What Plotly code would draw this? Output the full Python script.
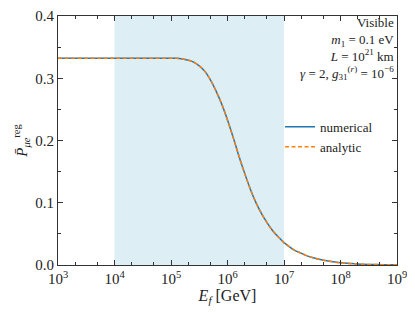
import plotly.graph_objects as go

# Data
E_GeV = [1e3, 1e4, 1e5, 1.26e5, 1.58e5, 2.0e5, 2.51e5, 3.16e5, 3.98e5, 5.01e5, 6.31e5, 7.94e5,
         1e6, 1.26e6, 1.58e6, 2.0e6, 2.51e6, 3.16e6, 3.98e6, 5.01e6, 6.31e6, 7.94e6,
         1e7, 1.26e7, 1.58e7, 2.0e7, 2.51e7, 3.16e7, 5.01e7, 1e8, 2.0e8, 3.98e8, 1e9]
P_numerical = [0.332, 0.332, 0.332, 0.332, 0.331, 0.329, 0.326, 0.320, 0.311, 0.297, 0.279, 0.258,
               0.233, 0.205, 0.176, 0.148, 0.123, 0.101, 0.083, 0.068, 0.055, 0.045,
               0.036, 0.029, 0.023, 0.019, 0.015, 0.012, 0.0075, 0.0035, 0.0016, 0.0007, 0.0003]
P_analytic = list(P_numerical)
band = [1e4, 1e7]
x_ticks = [1e3, 1e4, 1e5, 1e6, 1e7, 1e8, 1e9]
x_ticklabels = ["10<sup>3</sup>", "10<sup>4</sup>", "10<sup>5</sup>", "10<sup>6</sup>",
                "10<sup>7</sup>", "10<sup>8</sup>", "10<sup>9</sup>"]
y_ticks = [0.0, 0.1, 0.2, 0.3, 0.4]
y_ticklabels = ["0.0", "0.1", "0.2", "0.3", "0.4"]

FONT = "Liberation Serif"

fig = go.Figure()
fig.add_vrect(x0=band[0], x1=band[1], fillcolor="#ddeef5", line_width=0, layer="below")
fig.add_trace(go.Scatter(x=E_GeV, y=P_numerical, mode="lines", name="numerical",
                         line=dict(color="#1f77b4", width=1.5, shape="spline", smoothing=1.0)))
fig.add_trace(go.Scatter(x=E_GeV, y=P_analytic, mode="lines", name="analytic",
                         line=dict(color="#ff7f0e", width=1.5, dash="4px,2.5px", shape="spline", smoothing=1.0)))

fig.add_annotation(x=0.998, y=1.012, xref="paper", yref="paper", xanchor="right", yanchor="top",
                   align="right", showarrow=False,
                   text="Visible<br><i>m</i><sub>1</sub> = 0.1 eV<br><i>L</i> = 10<sup>21</sup> km<br>"
                        "<i>γ</i> = 2, <i>g</i><sub>31</sub><sup>(<i>r</i>)</sup> = 10<sup>−6</sup>",
                   font=dict(family=FONT, size=13, color="#222"))

axis_common = dict(showgrid=False, zeroline=False, ticks="inside", mirror="allticks",
                   showline=True, linecolor="#333", linewidth=1, tickcolor="#333",
                   ticklen=5, automargin=False, ticklabeloverflow="allow",
                   tickfont=dict(family=FONT, size=15, color="#222"))

fig.update_xaxes(type="log", range=[3, 9], tickvals=x_ticks, ticktext=x_ticklabels,
                 minor=dict(ticks="inside", ticklen=3, tickcolor="#333", showgrid=False),
                 title=dict(text="<i>E</i><sub><i>f</i></sub> [GeV]", font=dict(family=FONT, size=16, color="#222"),
                            standoff=2),
                 **axis_common)
fig.update_yaxes(range=[0, 0.4], tickvals=y_ticks, ticktext=y_ticklabels,
                 minor=dict(ticks="inside", ticklen=3, tickcolor="#333", dtick=0.05, showgrid=False),
                 title=dict(text="<i>P̄</i><sub><i>μe</i></sub><sup>reg</sup>", font=dict(family=FONT, size=15, color="#222"),
                            standoff=4),
                 **axis_common)

# page body has an 8px default margin; compensate so the plot area lands where the reference has it
fig.update_layout(width=407, height=308, margin=dict(l=50, r=18, t=8, b=51),
                  plot_bgcolor="white", paper_bgcolor="white",
                  font=dict(family=FONT, color="#222"),
                  legend=dict(x=0.655, y=0.615, xanchor="left", yanchor="top", bgcolor="rgba(0,0,0,0)",
                              font=dict(family=FONT, size=13, color="#222"), tracegroupgap=0,
                              itemwidth=30))
fig.write_html("out.html")
